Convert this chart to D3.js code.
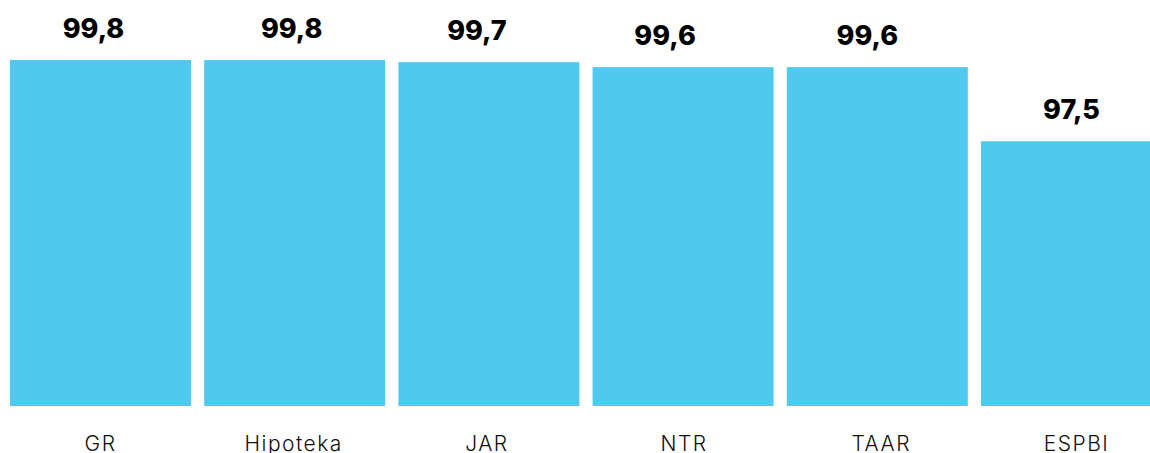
<!DOCTYPE html>
<html><head><meta charset="utf-8">
<script src="https://cdn.jsdelivr.net/npm/d3@7"></script>
<style>html,body{margin:0;padding:0;background:#fff;overflow:hidden}</style>
</head><body>
<svg id="chart" width="1150" height="453"></svg>
<script>
const categories = ["GR", "Hipoteka", "JAR", "NTR", "TAAR", "ESPBI"];
const values = [99.8, 99.8, 99.74, 99.6, 99.6, 97.5];
const yDomain = [90, 100];
// small horizontal nudges of the value labels, as in the original layout
const labelNudge = [-7, -3, -12, -18, -10, 0];
const tickNudge = [0, -1, -2, 1, 4, 5];

const svg = d3.select("#chart");
const x = d3.scaleBand().domain(categories).range([10, 1162]).paddingInner(0.068).paddingOuter(0);
const y = d3.scaleLinear().domain(yDomain).range([406, 53]);

svg.selectAll("rect.bar").data(categories).join("rect")
  .attr("class", "bar")
  .attr("x", d => x(d))
  .attr("width", x.bandwidth())
  .attr("y", (d, i) => y(values[i]))
  .attr("height", (d, i) => y(yDomain[0]) - y(values[i]))
  .attr("fill", "#50C9F1");

svg.selectAll("text.val").data(categories).join("text")
  .attr("class", "val")
  .attr("x", (d, i) => x(d) + x.bandwidth() / 2 + labelNudge[i])
  .attr("y", (d, i) => y(values[i]) - 22)
  .attr("text-anchor", "middle")
  .attr("font-family", "Inter, sans-serif")
  .attr("font-weight", 800)
  .attr("font-size", 27)
  .attr("fill", "#000")
  .text((d, i) => values[i].toFixed(1).replace(".", ","));

const xAxis = d3.axisBottom(x).tickSize(0).tickPadding(0);
const g = svg.append("g").attr("transform", "translate(0,406)").call(xAxis);
g.select(".domain").remove();
g.selectAll("text")
  .attr("x", (d, i) => tickNudge[i])
  .attr("y", 45)
  .attr("dy", 0)
  .attr("font-family", "Inter, sans-serif")
  .attr("font-weight", 300)
  .attr("font-size", 21)
  .attr("letter-spacing", 1.5)
  .attr("fill", "#111");
</script>
</body></html>
